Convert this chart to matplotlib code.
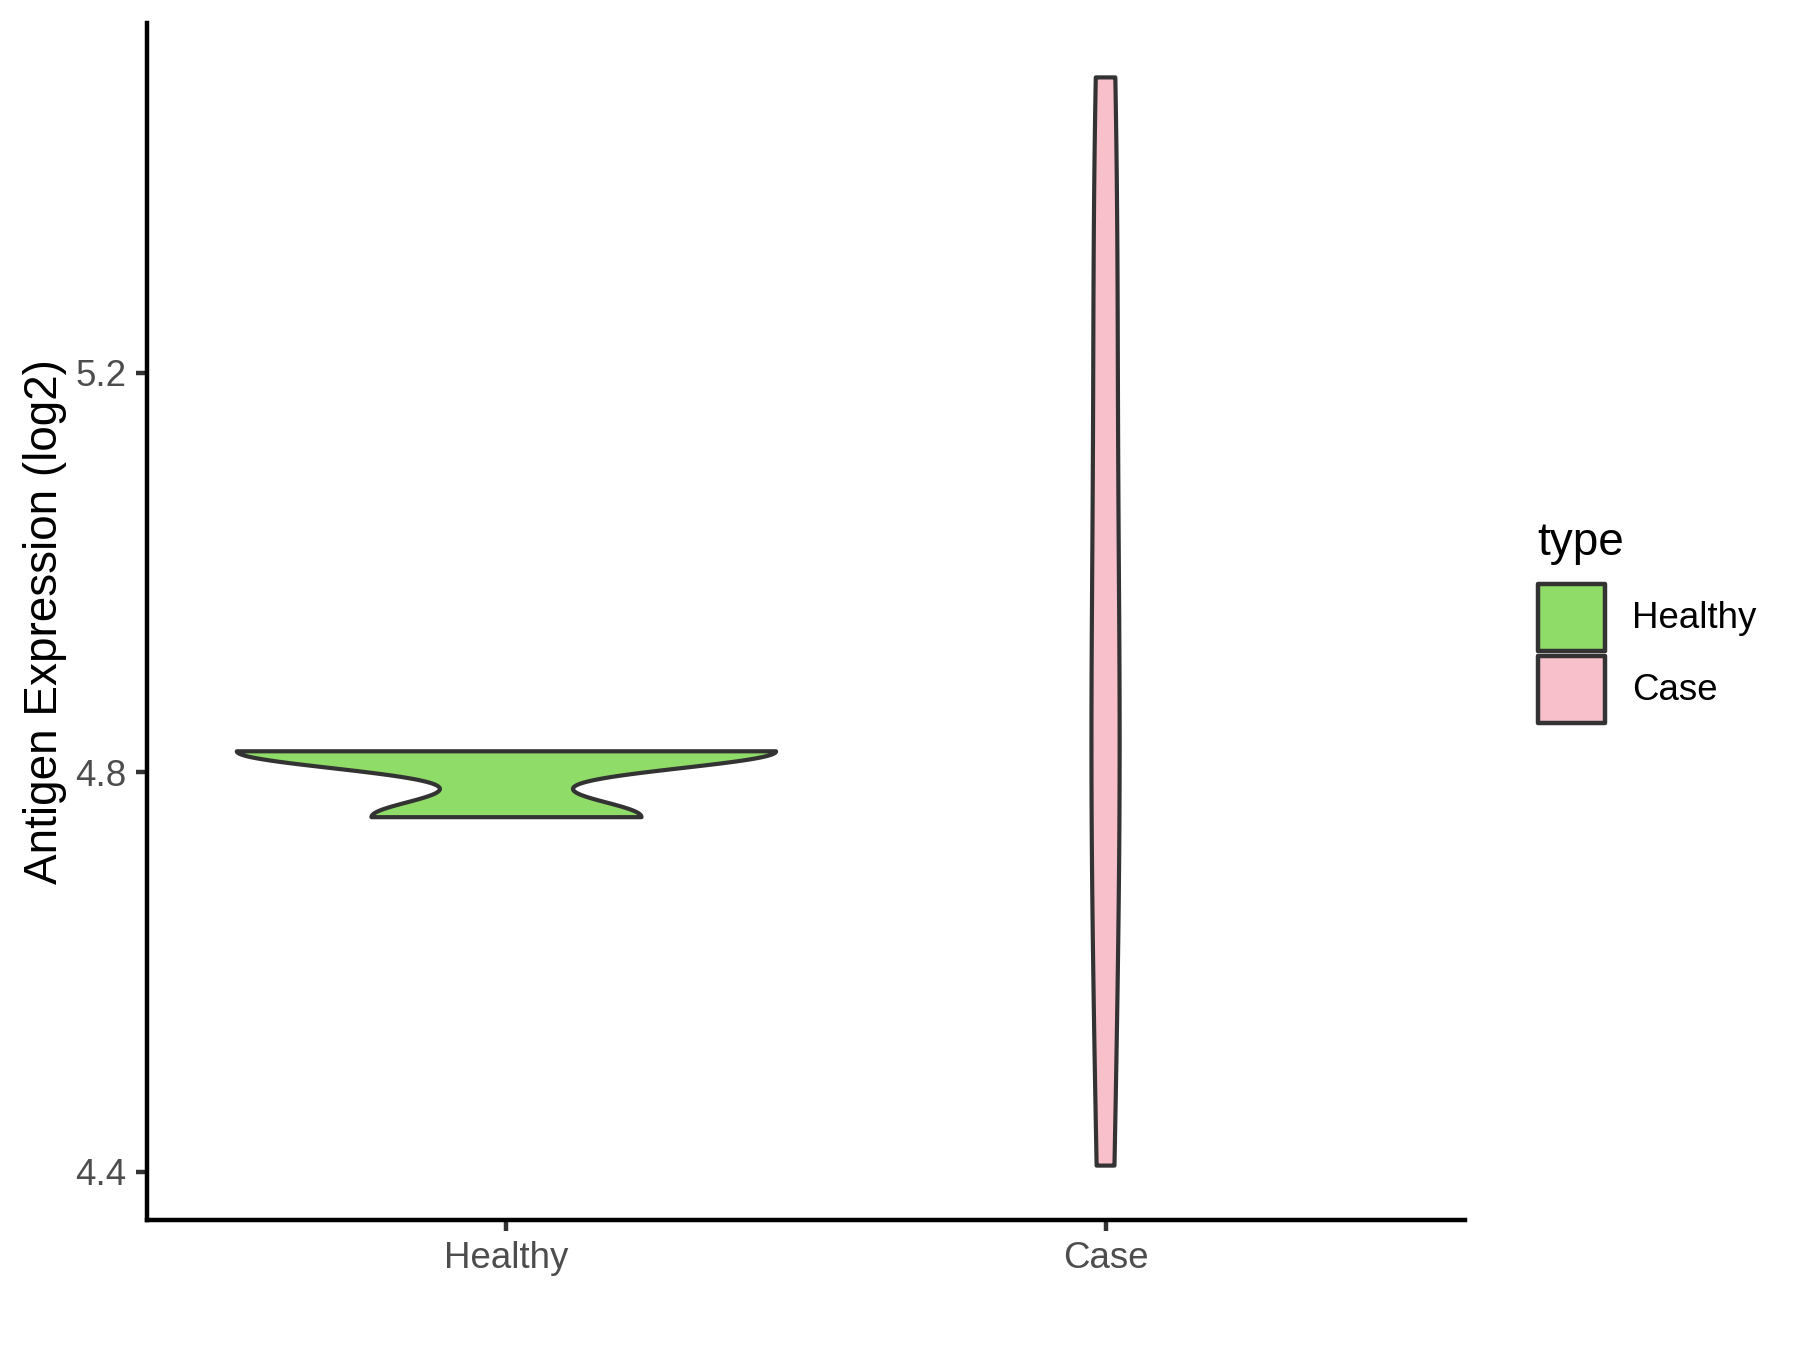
import matplotlib

matplotlib.use("Agg")
import matplotlib.pyplot as plt
import numpy as np
from matplotlib.patches import Rectangle

plt.rcParams["font.family"] = ["Liberation Sans", "DejaVu Sans"]

# expression values per group (log2)
GROUPS = ["Healthy", "Case"]
HEALTHY = [4.755, 4.821, 4.821]
CASE = [4.406, 4.75, 4.89, 5.25, 5.496]
FILLS = ["#8FDC68", "#F7C0CB"]
Y_TICKS = [4.4, 4.8, 5.2]
Y_LABEL = "Antigen Expression (log2)"
LEGEND_TITLE = "type"

W, H = 1800, 1350
EDGE = "#333333"


def bw_nrd0(x):
    # R's default bandwidth (what ggplot's geom_violin uses)
    x = np.asarray(x, dtype=float)
    q75, q25 = np.percentile(x, [75, 25])
    lo = min(x.std(ddof=1), (q75 - q25) / 1.34)
    return 0.9 * lo * len(x) ** -0.2


def kde(x, n=512):
    x = np.asarray(x, dtype=float)
    bw = bw_nrd0(x)
    grid = np.linspace(x.min(), x.max(), n)
    z = (grid[:, None] - x[None, :]) / bw
    dens = np.exp(-0.5 * z**2).sum(axis=1) / (len(x) * bw * np.sqrt(2 * np.pi))
    return grid, dens


def fig_box(x0, y0, x1, y1):
    # pixel box (top-left origin) -> figure fraction rect
    return [x0 / W, 1 - y1 / H, (x1 - x0) / W, (y1 - y0) / H]


def main() -> None:
    fig = plt.figure(figsize=(6, 4.5), dpi=300)
    ax = fig.add_axes(fig_box(147, 23, 1465, 1220))

    curves = [kde(v) for v in (HEALTHY, CASE)]
    dmax = max(d.max() for _, d in curves)  # scale="area"
    for i, ((grid, dens), fill) in enumerate(zip(curves, FILLS)):
        pos = i + 1
        half = 0.45 * dens / dmax
        xs = np.concatenate([pos - half, (pos + half)[::-1]])
        ys = np.concatenate([grid, grid[::-1]])
        ax.fill(xs, ys, facecolor=fill, edgecolor=EDGE, lw=1.0, joinstyle="round")

    allv = np.concatenate([HEALTHY, CASE])
    span = allv.max() - allv.min()
    ax.set_ylim(allv.min() - 0.05 * span, allv.max() + 0.05 * span)
    ax.set_xlim(0.4, len(GROUPS) + 0.6)
    ax.set_xticks(range(1, len(GROUPS) + 1))
    ax.set_xticklabels(GROUPS)
    ax.set_yticks(Y_TICKS)
    ax.set_yticklabels([f"{t:.1f}" for t in Y_TICKS])

    for side in ("top", "right"):
        ax.spines[side].set_visible(False)
    for side in ("left", "bottom"):
        ax.spines[side].set_linewidth(1.07)
        ax.spines[side].set_color("black")
    ax.tick_params(length=2.75, width=1.07, color=EDGE, labelsize=8.8,
                   labelcolor="#4D4D4D", pad=2.2)
    ax.set_ylabel(Y_LABEL, fontsize=11, color="black", labelpad=2.0)

    # legend drawn by hand to sit like ggplot's guide
    fig.text(1537 / W, 1 - 555 / H, LEGEND_TITLE, fontsize=11, ha="left", va="baseline")
    key_tops = [584, 656]
    for top, fill, name in zip(key_tops, FILLS, GROUPS):
        fig.add_artist(Rectangle((1538 / W, 1 - (top + 67) / H), 67 / W, 67 / H,
                                 transform=fig.transFigure, facecolor=fill,
                                 edgecolor=EDGE, lw=1.07, joinstyle="round"))
        fig.text(1632 / W, 1 - (top + 34) / H, name, fontsize=8.8, ha="left", va="center")

    fig.savefig("out.png", dpi=300)


if __name__ == "__main__":
    main()
